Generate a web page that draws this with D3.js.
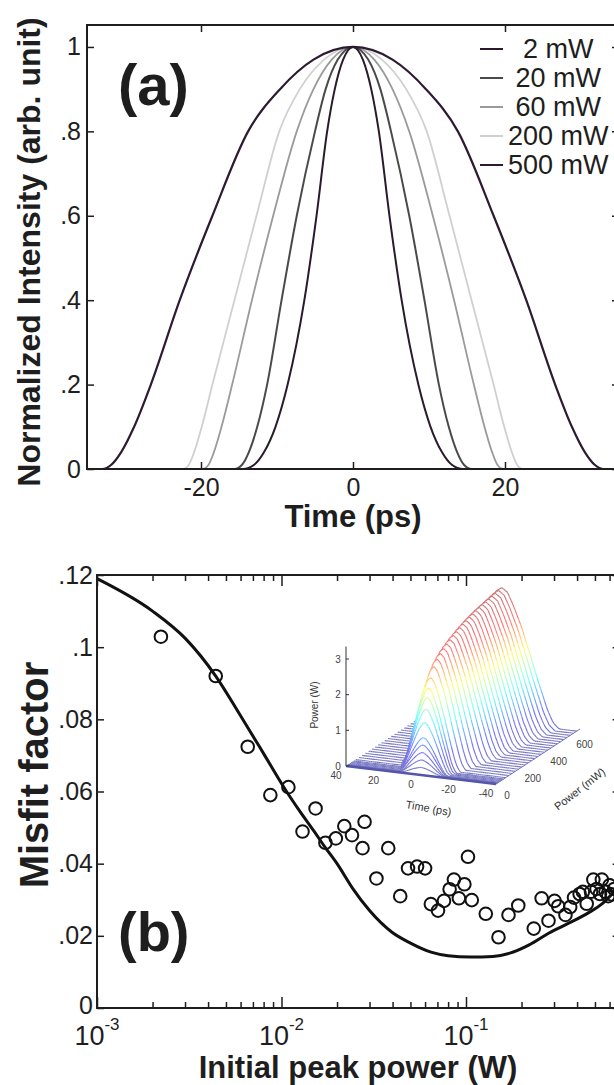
<!DOCTYPE html>
<html><head><meta charset="utf-8">
<script src="https://cdn.jsdelivr.net/npm/d3@7"></script>
<style>
body{margin:0;background:#fff}
svg{display:block;font-family:"Liberation Sans",Arial,Helvetica,sans-serif}
</style>
</head><body>
<svg id="c" width="614" height="1085"></svg>
<script>
// ---------------- Panel (a) data ----------------
const seriesNames = ["2 mW", "20 mW", "60 mW", "200 mW", "500 mW"];
const legendLabels = ["  2 mW", " 20 mW", " 60 mW", "200 mW", "500 mW"];
const seriesColors = ["#2a1a2c", "#4a4a4a", "#9a9a9a", "#d0d0d0", "#2e1a33"];
const intensityLevels = [0,0,0.01,0.04,0.1,0.2,0.4,0.6,0.8,0.9,0.97,1,0.97,0.9,0.8,0.6,0.4,0.2,0.1,0.04,0.01,0,0];
const time2mW   = [-35,-14.5,-13,-11.7,-10.2,-8.6,-6.4,-4.8,-3.4,-2.4,-1.3,0,1.3,2.4,3.4,4.8,6.4,8.6,10.2,11.7,13,14.5,35];
const time20mW  = [-35,-15.6,-14.6,-13.7,-12.6,-11.3,-9.4,-7.4,-5.0,-3.6,-2.0,0,2.0,3.6,5.0,7.4,9.4,11.3,12.6,13.7,14.6,15.6,35];
const time60mW  = [-35,-19.8,-19,-18.3,-17.3,-15.9,-13.3,-10.5,-7.4,-5.2,-2.8,0,2.8,5.2,7.4,10.5,13.3,15.9,17.3,18.3,19,19.8,35];
const time200mW = [-35,-22.3,-21.6,-20.9,-19.9,-18.5,-15.6,-12.7,-9.7,-7,-3.8,0,3.8,7,9.7,12.7,15.6,18.5,19.9,20.9,21.6,22.3,35];
const time500mW = [-35,-33,-31.8,-30.5,-28.8,-26.6,-22.8,-18.5,-13.8,-9.6,-5.2,0,5.2,9.6,13.8,18.5,22.8,26.6,28.8,30.5,31.8,33,35];
const timeTicksA = [-20, 0, 20];
const intensityTicks = [0, 0.2, 0.4, 0.6, 0.8, 1];
const intensityTickLabels = ["0", ".2", ".4", ".6", ".8", "1"];

// ---------------- Panel (b) data ----------------
const simPower  = [0.001,0.002,0.003,0.0044,0.006,0.008,0.0105,0.0125,0.015,0.0172,0.02,0.0244,0.03,0.0397,0.05,0.0646,0.08,0.106,0.14,0.173,0.22,0.282,0.36,0.458,0.55,0.68];
const simMisfit = [0.119,0.110,0.1025,0.092,0.081,0.0705,0.0605,0.0547,0.049,0.0446,0.040,0.033,0.027,0.021,0.018,0.0155,0.0145,0.0141,0.0143,0.0152,0.0175,0.0208,0.0235,0.0263,0.029,0.034];
const expPower  = [0.00222,0.0044,0.00656,0.0087,0.0109,0.0130,0.0153,0.0173,0.0197,0.0219,0.0241,0.0275,0.0282,0.0327,0.0379,0.0440,0.0485,0.0543,0.0600,0.0645,0.0705,0.0760,0.0815,0.0860,0.0915,0.0980,0.1025,0.1075,0.128,0.150,0.170,0.192,0.233,0.257,0.280,0.302,0.316,0.346,0.367,0.385,0.413,0.430,0.451,0.476,0.490,0.510,0.532,0.545,0.570,0.590,0.600,0.615,0.635];
const expMisfit = [0.1029,0.0920,0.0724,0.0590,0.0612,0.0489,0.0553,0.0458,0.0470,0.0504,0.0479,0.0443,0.0516,0.0359,0.0443,0.0310,0.0387,0.0392,0.0387,0.0288,0.0270,0.0297,0.0329,0.0356,0.0304,0.0343,0.0419,0.0299,0.0261,0.0196,0.0258,0.0284,0.0220,0.0304,0.0242,0.0297,0.0282,0.0258,0.0280,0.0306,0.0316,0.0322,0.0289,0.0322,0.0356,0.0330,0.0316,0.0356,0.0322,0.0310,0.0340,0.0315,0.0330];
const powerDecades = [0.001, 0.01, 0.1];
const powerDecadeExp = ["-3", "-2", "-1"];
const powerMinor = [0.002,0.003,0.004,0.005,0.006,0.007,0.008,0.009,0.02,0.03,0.04,0.05,0.06,0.07,0.08,0.09,0.2,0.3,0.4,0.5,0.6];
const misfitTicks = [0, 0.02, 0.04, 0.06, 0.08, 0.1, 0.12];
const misfitTickLabels = ["0", ".02", ".04", ".06", ".08", ".1", ".12"];

// ---------------- Inset data ----------------
const insetPowers = [0,4,8,12,16,20,30,40,50,60,75,100,125,150,175,200,225,250,275,300,325,350,375,400,425,450,475,500,525,550,575,600,625];
const insetPeaks  = [0,0.2,0.4,0.6,0.8,1.0,1.4,1.75,2.05,2.3,2.55,2.8,2.95,3.05,3.13,3.2,3.26,3.32,3.37,3.42,3.46,3.5,3.54,3.57,3.6,3.63,3.65,3.67,3.69,3.71,3.73,3.75,3.77];
const insetHalfW  = [12,12,12.5,12.5,13,13,13.5,14,14.5,15,16,17,18,19,20,21,22,23,23.5,24,24.5,25,25.5,26,26.5,27,27.5,28,28.5,29,29.5,30,30.5];
const profileU = [-1,-0.9,-0.8,-0.65,-0.5,-0.35,-0.2,-0.1,0,0.1,0.2,0.35,0.5,0.65,0.8,0.9,1];
const profileV = [0,0.04,0.13,0.32,0.52,0.72,0.88,0.97,1,0.97,0.88,0.72,0.52,0.32,0.13,0.04,0];
const insetTimeTicks = [40, 20, 0, -20, -40];
const insetPowerTicks = [0, 200, 400, 600];
const insetZTicks = [0, 1, 2, 3];

// ---------------- Drawing ----------------
const svg = d3.select("#c");
const ink = "#1e1e1e";

// ===== Panel (a) =====
const xA = d3.scaleLinear().domain([-35, 35]).range([87, 619]);
const yA = d3.scaleLinear().domain([0, 1.052]).range([469, 25]);
const gA = svg.append("g");

const timesA = [time2mW, time20mW, time60mW, time200mW, time500mW];
const widthsA = [2, 2, 1.8, 1.8, 2.2];
const lineA = d3.line().x(d => xA(d[0])).y(d => yA(d[1])).curve(d3.curveMonotoneX);
[3, 2, 1, 4, 0].forEach(i => {
  const pts = timesA[i].map((t, k) => [t, intensityLevels[k]]);
  gA.append("path").attr("d", lineA(pts)).attr("fill", "none")
    .attr("stroke", seriesColors[i]).attr("stroke-width", widthsA[i]).attr("stroke-linejoin", "round");
});

// axes (a)
const axL = gA.append("g").attr("transform", `translate(${xA.range()[0]},0)`)
  .call(d3.axisLeft(yA).tickValues(intensityTicks).tickSize(-7).tickPadding(6)
    .tickFormat((d, i) => intensityTickLabels[i]));
const axR = gA.append("g").attr("transform", `translate(${xA.range()[1]},0)`)
  .call(d3.axisRight(yA).tickValues(intensityTicks).tickSize(-7).tickFormat(""));
const axB = gA.append("g").attr("transform", `translate(0,${yA(0)})`)
  .call(d3.axisBottom(xA).tickValues(timeTicksA).tickSize(-7).tickPadding(9).tickFormat(d => String(d)));
const axT = gA.append("g").attr("transform", `translate(0,${yA.range()[1]})`)
  .call(d3.axisTop(xA).tickValues(timeTicksA).tickSize(-7).tickFormat(""));
[axL, axR, axB, axT].forEach(a => {
  a.select(".domain").remove();
  a.selectAll("line").attr("stroke", ink).attr("stroke-width", 1.5);
  a.selectAll("text").attr("font-size", 25).attr("fill", ink).attr("font-family", null);
});
axB.selectAll("text").attr("dy", "0.71em");
gA.append("rect").attr("x", xA.range()[0]).attr("y", yA.range()[1])
  .attr("width", xA.range()[1] - xA.range()[0]).attr("height", yA(0) - yA.range()[1])
  .attr("fill", "none").attr("stroke", ink).attr("stroke-width", 2);

// legend
const lg = gA.append("g").attr("transform", "translate(480,49)");
seriesNames.forEach((n, i) => {
  const row = lg.append("g").attr("transform", `translate(0,${i * 29})`);
  row.append("line").attr("x1", 0).attr("x2", 23).attr("y1", 0).attr("y2", 0)
    .attr("stroke", seriesColors[i]).attr("stroke-width", 2);
  row.append("text").attr("x", 28).attr("y", 0).attr("dy", "0.35em")
    .attr("font-size", 27).attr("fill", ink).style("white-space", "pre").text(legendLabels[i]);
});

gA.append("text").attr("x", 118).attr("y", 105).attr("font-size", 58).attr("font-weight", "bold")
  .attr("fill", ink).text("(a)");
gA.append("text").attr("x", 353).attr("y", 527).attr("text-anchor", "middle")
  .attr("font-size", 31).attr("font-weight", "bold").attr("fill", ink).text("Time (ps)");
gA.append("text").attr("transform", "translate(40,252) rotate(-90)").attr("text-anchor", "middle")
  .attr("font-size", 32).attr("font-weight", "bold").attr("fill", ink).text("Normalized Intensity (arb. unit)");

// ===== Panel (b) =====
const xB = d3.scaleLog().domain([0.001, 0.68]).range([97, 97 + 184.5 * Math.log10(680)]);
const yB = d3.scaleLinear().domain([0, 0.12]).range([1008, 575]);
const gB = svg.append("g");

const lineB = d3.line().x((d) => xB(d[0])).y(d => yB(d[1])).curve(d3.curveMonotoneX);
gB.append("path").attr("d", lineB(simPower.map((p, i) => [p, simMisfit[i]])))
  .attr("fill", "none").attr("stroke", "#111").attr("stroke-width", 3).attr("stroke-linejoin", "round");

gB.append("g").selectAll("circle").data(expPower.map((p, i) => [p, expMisfit[i]])).join("circle")
  .attr("cx", d => xB(d[0])).attr("cy", d => yB(d[1])).attr("r", 6.3)
  .attr("fill", "none").attr("stroke", "#111").attr("stroke-width", 2);

const bL = gB.append("g").attr("transform", `translate(${xB.range()[0]},0)`)
  .call(d3.axisLeft(yB).tickValues(misfitTicks).tickSize(-7).tickPadding(4)
    .tickFormat((d, i) => misfitTickLabels[i]));
const bR = gB.append("g").attr("transform", `translate(${xB.range()[1]},0)`)
  .call(d3.axisRight(yB).tickValues(misfitTicks).tickSize(-7).tickFormat(""));
const bBm = gB.append("g").attr("transform", `translate(0,${yB(0)})`)
  .call(d3.axisBottom(xB).tickValues(powerDecades).tickSize(-11).tickFormat(""));
const bBn = gB.append("g").attr("transform", `translate(0,${yB(0)})`)
  .call(d3.axisBottom(xB).tickValues(powerMinor).tickSize(-6).tickFormat(""));
const bTm = gB.append("g").attr("transform", `translate(0,${yB.range()[1]})`)
  .call(d3.axisTop(xB).tickValues(powerDecades).tickSize(-11).tickFormat(""));
const bTn = gB.append("g").attr("transform", `translate(0,${yB.range()[1]})`)
  .call(d3.axisTop(xB).tickValues(powerMinor).tickSize(-6).tickFormat(""));
[bL, bR, bBm, bBn, bTm, bTn].forEach(a => {
  a.select(".domain").remove();
  a.selectAll("line").attr("stroke", ink).attr("stroke-width", 1.5);
  a.selectAll("text").attr("font-size", 25).attr("fill", ink).attr("font-family", null);
});
bL.selectAll("text").filter(d => d === 0).attr("dy", "0.2em");
gB.append("rect").attr("x", xB.range()[0]).attr("y", yB.range()[1])
  .attr("width", xB.range()[1] - xB.range()[0]).attr("height", yB(0) - yB.range()[1])
  .attr("fill", "none").attr("stroke", ink).attr("stroke-width", 2);

powerDecades.forEach((v, i) => {
  const t = gB.append("text").attr("x", xB(v)).attr("y", 1045).attr("text-anchor", "middle")
    .attr("fill", ink).attr("font-size", 27);
  t.append("tspan").text("10");
  t.append("tspan").attr("font-size", 17).attr("dy", -15).text(powerDecadeExp[i]);
});

gB.append("text").attr("x", 358).attr("y", 1078).attr("text-anchor", "middle")
  .attr("font-size", 31).attr("font-weight", "bold").attr("fill", ink).text("Initial peak power (W)");
gB.append("text").attr("x", 118).attr("y", 951).attr("font-size", 56).attr("font-weight", "bold")
  .attr("fill", ink).text("(b)");
gB.append("text").attr("transform", "translate(48,775) rotate(-90)").attr("text-anchor", "middle")
  .attr("font-size", 40).attr("font-weight", "bold").attr("fill", ink).text("Misfit factor");

// ===== Inset =====
const gI = svg.append("g");
const O = [346, 766];
const itx = d3.scaleLinear().domain([40, -40]).range([0, 150]);
const ity = d3.scaleLinear().domain([40, -40]).range([0, 18]);
const ipx = d3.scaleLinear().domain([0, 650]).range([0, 84]);
const ipy = d3.scaleLinear().domain([0, 650]).range([0, -55]);
const iz  = d3.scaleLinear().domain([0, 3]).range([0, -107]);
const proj = (t, p, z) => [O[0] + itx(t) + ipx(p), O[1] + ity(t) + ipy(p) + iz(z)];
const prof = d3.scaleLinear().domain(profileU).range(profileV).clamp(true);
const jet = d3.scaleLinear().domain([0, 0.55, 1.4, 2.2, 3.0, 3.9])
  .range(["#00008f", "#0000ff", "#00ffff", "#ffff00", "#ff0000", "#800000"]);
const light = z => d3.interpolateRgb(jet(z), "#ffffff")(0.45);
const tSamples = d3.range(40, -40.5, -1);

for (let k = insetPowers.length - 1; k >= 0; k--) {
  const P = insetPowers[k], pk = insetPeaks[k], hw = insetHalfW[k];
  const pts = tSamples.map(t => [t, pk * prof(t / hw)]);
  const scr = pts.map(d => proj(d[0], P, d[1]));
  const base = [proj(-40, P, 0), proj(40, P, 0)];
  gI.append("path").attr("d", "M" + scr.concat(base).map(p => p.join(",")).join("L") + "Z")
    .attr("fill", "#fff").attr("stroke", "none");
  for (let j = 0; j < pts.length - 1; j++) {
    const z = (pts[j][1] + pts[j + 1][1]) / 2;
    gI.append("line").attr("x1", scr[j][0]).attr("y1", scr[j][1])
      .attr("x2", scr[j + 1][0]).attr("y2", scr[j + 1][1])
      .attr("stroke", light(z)).attr("stroke-width", 1.1);
  }
}
// inset axes
const a0 = proj(40, 0, 0), a1 = proj(-40, 0, 0), a2 = proj(-40, 650, 0), aTop = proj(40, 0, 3.35);
gI.append("line").attr("x1", a0[0]).attr("y1", a0[1]).attr("x2", aTop[0]).attr("y2", aTop[1]).attr("stroke", "#333").attr("stroke-width", 1);
gI.append("line").attr("x1", a0[0]).attr("y1", a0[1]).attr("x2", a1[0]).attr("y2", a1[1]).attr("stroke", "#55a").attr("stroke-width", 2.5);
gI.append("line").attr("x1", a1[0]).attr("y1", a1[1]).attr("x2", a2[0]).attr("y2", a2[1]).attr("stroke", "#77b").attr("stroke-width", 1);
insetZTicks.forEach(z => {
  const p = proj(40, 0, z);
  gI.append("line").attr("x1", p[0]).attr("y1", p[1]).attr("x2", p[0] + 3).attr("y2", p[1]).attr("stroke", "#333");
  gI.append("text").attr("x", p[0] - 8).attr("y", p[1]).attr("dy", "0.35em").attr("text-anchor", "middle")
    .attr("font-size", 10).attr("fill", "#444").text(z);
});
insetTimeTicks.forEach(t => {
  const p = proj(t, 0, 0);
  gI.append("text").attr("x", p[0] - 10).attr("y", p[1] + 13).attr("text-anchor", "middle")
    .attr("font-size", 10).attr("fill", "#444").text(t);
});
insetPowerTicks.forEach(v => {
  const p = proj(-40, v, 0);
  gI.append("text").attr("x", p[0] + 11).attr("y", p[1] + 15).attr("text-anchor", "middle")
    .attr("font-size", 10).attr("fill", "#444").text(v);
});
gI.append("text").attr("transform", "translate(318,705) rotate(-90)").attr("text-anchor", "middle")
  .attr("font-size", 10).attr("fill", "#333").text("Power (W)");
gI.append("text").attr("transform", "translate(428,812) rotate(10)").attr("text-anchor", "middle")
  .attr("font-size", 11).attr("fill", "#333").text("Time (ps)");
gI.append("text").attr("transform", "translate(582,792) rotate(-38)").attr("text-anchor", "middle")
  .attr("font-size", 11).attr("fill", "#333").text("Power (mW)");
</script>
</body></html>
